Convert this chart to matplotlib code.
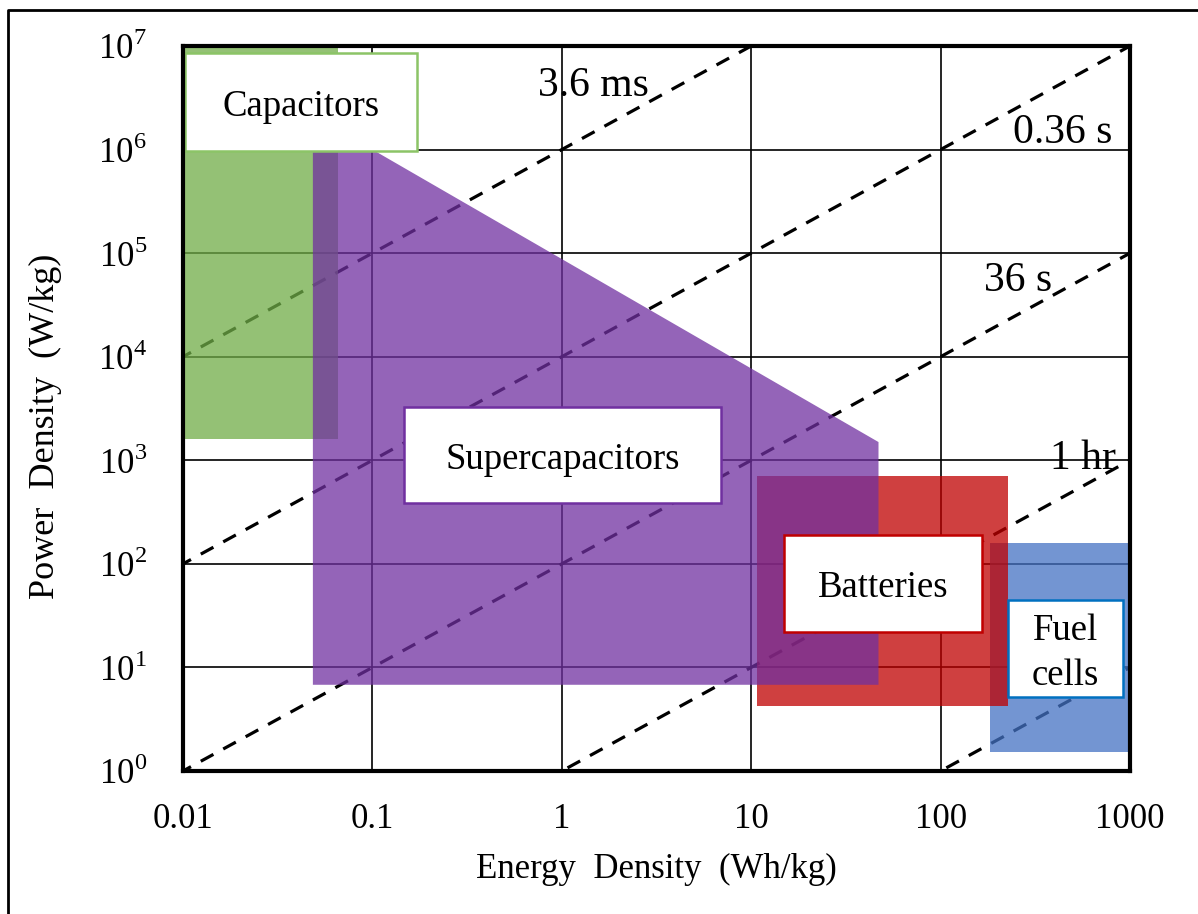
import matplotlib
matplotlib.use('Agg')
import matplotlib.pyplot as plt
from matplotlib.patches import Polygon, Rectangle
from matplotlib.lines import Line2D
from matplotlib.ticker import NullLocator

plt.rcParams['font.family'] = ['Liberation Serif', 'DejaVu Serif']
plt.rcParams['mathtext.fontset'] = 'custom'
plt.rcParams['mathtext.rm'] = 'Liberation Serif'

# axis ticks
x_ticks = [0.01, 0.1, 1, 10, 100, 1000]
x_tick_labels = ['0.01', '0.1', '1', '10', '100', '1000']
y_exponents = [0, 1, 2, 3, 4, 5, 6, 7]

# operating regions (energy in Wh/kg, power in W/kg)
cap_energy = [0.01, 0.066]
cap_power = [1600, 1e7]
sc_energy = [0.0485, 0.1, 47, 47, 0.0485]
sc_power = [1e6, 1e6, 1500, 6.8, 6.8]
bat_energy = [10.7, 227]
bat_power = [4.2, 705]
fc_energy = [182, 1000]
fc_power = [1.53, 160]

# constant discharge-time lines (seconds)
times = [0.0036, 0.36, 36, 3600, 360000]
time_labels = ['3.6 ms', '0.36 s', '36 s', '1 hr', None]

fig = plt.figure(figsize=(11.98, 9.14), dpi=100)
ax = fig.add_axes([183 / 1198, 1 - 771 / 914, 947 / 1198, 725 / 914])
ax.set_xscale('log')
ax.set_yscale('log')
ax.set_xlim(0.01, 1000)
ax.set_ylim(1, 1e7)

ax.set_xticks(x_ticks)
ax.set_xticklabels(x_tick_labels)
ax.set_yticks([10.0 ** e for e in y_exponents])
ax.set_yticklabels([r'$10^{%d}$' % e for e in y_exponents])
ax.xaxis.set_minor_locator(NullLocator())
ax.yaxis.set_minor_locator(NullLocator())
ax.tick_params(axis='both', length=0, labelsize=25)
ax.tick_params(axis='x', pad=23)
ax.tick_params(axis='y', pad=26)

ax.set_axisbelow(True)
ax.grid(True, which='major', color='black', lw=1.2)
for s in ax.spines.values():
    s.set_linewidth(3)
    s.set_zorder(5)

# dashed lines P = 3600 * E / t
e_span = [1e-3, 1e4]
for t in times:
    ax.plot(e_span, [3600 * e / t for e in e_span], color='black', lw=2.3,
            dashes=(4.5, 3.5), zorder=1)

alpha = 0.75
ax.add_patch(Rectangle((cap_energy[0], cap_power[0]), cap_energy[1] - cap_energy[0],
                       cap_power[1] - cap_power[0], color='#70AD47', alpha=alpha,
                       lw=0, zorder=2))
ax.add_patch(Rectangle((fc_energy[0], fc_power[0]), fc_energy[1] - fc_energy[0],
                       fc_power[1] - fc_power[0], color='#4472C4', alpha=alpha,
                       lw=0, zorder=2))
ax.add_patch(Rectangle((bat_energy[0], bat_power[0]), bat_energy[1] - bat_energy[0],
                       bat_power[1] - bat_power[0], color='#C00000', alpha=alpha,
                       lw=0, zorder=2))
ax.add_patch(Polygon(list(zip(sc_energy, sc_power)), closed=True, color='#7030A0',
                     alpha=alpha, lw=0, zorder=2))

# label boxes (axes fractions: x0, y0, x1, y1)
boxes = [
    ('Capacitors', (0.0021, 0.8552, 0.2471, 0.9903), '#8CC467'),
    ('Supercapacitors', (0.2334, 0.3697, 0.5681, 0.5021), '#7030A0'),
    ('Batteries', (0.6346, 0.1917, 0.8437, 0.3255), '#C00000'),
    ('Fuel\ncells', (0.8712, 0.1021, 0.9926, 0.2359), '#0070C0'),
]
for name, (x0, y0, x1, y1), ec in boxes:
    ax.add_patch(Rectangle((x0, y0), x1 - x0, y1 - y0, transform=ax.transAxes,
                           facecolor='white', edgecolor=ec, lw=1.8, zorder=3))
    ax.text((x0 + x1) / 2, (y0 + y1) / 2 - 0.006, name, transform=ax.transAxes,
            ha='center', va='center', fontsize=26.5, zorder=4, linespacing=1.4)

label_pos = [(0.433, 0.945), (0.929, 0.880), (0.8817, 0.676), (0.950, 0.431)]
for lab, (x, y) in zip(time_labels, label_pos):
    if lab:
        ax.text(x, y, lab, transform=ax.transAxes, ha='center', va='center',
                fontsize=30, zorder=4)

ax.set_xlabel('Energy  Density  (Wh/kg)', fontsize=25, labelpad=12)
ax.set_ylabel('Power  Density  (W/kg)', fontsize=26)
ax.yaxis.set_label_coords(-0.128, 0.476)

# outer frame (top and left edges)
fig.add_artist(Line2D([8 / 1198, 8 / 1198, 1.0], [0.0, 1 - 10 / 914, 1 - 10 / 914],
                      transform=fig.transFigure, color='black', lw=2))

fig.savefig('out.png', dpi=100)
